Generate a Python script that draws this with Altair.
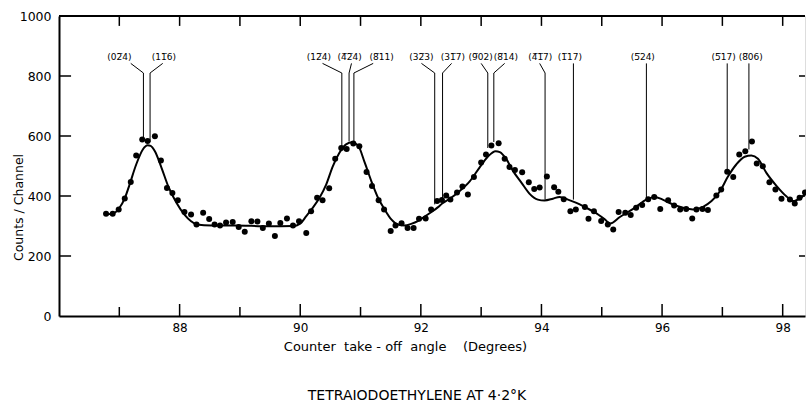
import altair as alt
import pandas as pd

# ---- measured points (angle in degrees, counts per channel) ----
pt_angle = [86.78, 86.89, 86.99, 87.09, 87.19, 87.28, 87.38, 87.47, 87.59, 87.69,
            87.79, 87.88, 87.97, 88.08, 88.19, 88.28, 88.39, 88.49, 88.58, 88.67,
            88.77, 88.88, 88.98, 89.08, 89.19, 89.29, 89.38, 89.48, 89.58, 89.67,
            89.78, 89.88, 89.98, 90.10, 90.18, 90.28, 90.37, 90.48, 90.58, 90.68,
            90.77, 90.88, 90.98, 91.10, 91.19, 91.30, 91.39, 91.50, 91.58, 91.68,
            91.78, 91.88, 91.97, 92.08, 92.17, 92.27, 92.35, 92.42, 92.49, 92.60,
            92.69, 92.78, 92.88, 93.00, 93.08, 93.17, 93.29, 93.39, 93.47, 93.56,
            93.68, 93.79, 93.88, 93.97, 94.09, 94.21, 94.28, 94.37, 94.48, 94.57,
            94.72, 94.78, 94.87, 94.99, 95.10, 95.19, 95.28, 95.39, 95.48, 95.57,
            95.67, 95.77, 95.87, 95.97, 96.10, 96.20, 96.30, 96.40, 96.50, 96.57,
            96.67, 96.76, 96.90, 96.98, 97.08, 97.18, 97.28, 97.38, 97.49, 97.57,
            97.67, 97.78, 97.88, 97.98, 98.12, 98.20, 98.28, 98.37]
pt_count = [341, 341, 355, 392, 447, 535, 588, 583, 599, 518,
            427, 410, 386, 347, 338, 305, 344, 323, 305, 302,
            312, 313, 297, 281, 316, 315, 293, 308, 267, 310,
            325, 302, 316, 277, 349, 394, 386, 426, 524, 560,
            557, 575, 566, 480, 433, 386, 355, 283, 302, 309,
            293, 293, 324, 325, 355, 383, 387, 402, 388, 412,
            432, 405, 463, 512, 538, 568, 576, 524, 497, 487,
            479, 446, 423, 428, 465, 429, 414, 389, 349, 355,
            363, 324, 349, 317, 305, 288, 347, 344, 337, 361,
            370, 389, 397, 357, 386, 368, 355, 357, 325, 355,
            357, 353, 402, 422, 481, 463, 538, 549, 582, 508,
            499, 446, 422, 391, 388, 375, 394, 412]

# ---- fitted curve ----
fit_angle = [86.78, 86.92, 87.00, 87.09, 87.17, 87.28, 87.39, 87.47, 87.52, 87.59,
             87.70, 87.81, 87.95, 88.08, 88.19, 88.28, 88.53, 88.91, 89.46, 89.88,
             90.00, 90.10, 90.21, 90.32, 90.43, 90.54, 90.65, 90.76, 90.86, 90.96,
             91.07, 91.18, 91.29, 91.40, 91.51, 91.62, 91.73, 91.84, 91.95, 92.06,
             92.17, 92.28, 92.36, 92.48, 92.64, 92.81, 92.97, 93.11, 93.24, 93.31,
             93.42, 93.53, 93.67, 93.80, 93.94, 94.05, 94.19, 94.30, 94.44, 94.58,
             94.74, 94.88, 95.05, 95.14, 95.30, 95.52, 95.74, 95.88, 96.01, 96.18,
             96.35, 96.51, 96.68, 96.82, 96.96, 97.09, 97.23, 97.37, 97.48, 97.59,
             97.73, 97.90, 98.06, 98.17, 98.30, 98.37]
fit_count = [338, 344, 360, 392, 438, 505, 555, 569, 567, 549,
             494, 433, 377, 338, 316, 305, 302, 302, 299, 300,
             308, 333, 361, 394, 438, 499, 544, 572, 579, 568,
             511, 449, 394, 355, 322, 305, 302, 307, 316, 331,
             346, 362, 376, 391, 416, 449, 494, 531, 549, 546,
             522, 483, 444, 408, 388, 385, 391, 397, 388, 377,
             361, 346, 322, 308, 330, 357, 388, 397, 388, 372,
             361, 355, 364, 383, 416, 464, 505, 531, 535, 524,
             477, 433, 399, 383, 394, 405]

# ---- reflection labels ----
O = "\u0305"
label_text = ["(02" + O + "4)", "(11" + O + "6)", "(12" + O + "4)", "(4" + O + "2" + O + "4)",
              "(8" + O + "11)", "(32" + O + "3)", "(31" + O + "7)", "(9" + O + "02)",
              "(8" + O + "14)", "(4" + O + "1" + O + "7)", "(1" + O + "17)", "(5" + O + "24)",
              "(5" + O + "17)", "(8" + O + "06)"]
label_angle = [87.00, 87.74, 90.31, 90.82, 91.35, 92.01, 92.53, 92.99, 93.41, 93.98,
               94.47, 95.68, 97.02, 97.47]
leader_start = [87.19, 87.72, 90.37, 90.85, 91.21, 92.01, 92.51, 93.00, 93.39, 93.97,
                94.53, 95.74, 97.08, 97.44]
leader_angle = [87.40, 87.51, 90.69, 90.81, 90.89, 92.23, 92.36, 93.11, 93.21, 94.06,
                94.53, 95.74, 97.08, 97.44]
leader_end = [588, 580, 565, 582, 580, 372, 385, 560, 580, 388, 388, 390, 480, 555]

x_major = [88, 90, 92, 94, 96, 98]
x_minor = [87, 89, 91, 93, 95, 97]
y_ticks = [200, 400, 600, 800]
y_labels = [0, 200, 400, 600, 800, 1000]

FONT = "DejaVu Sans"
X0, X1 = 86, 98.37
LABEL_Y, KINK_TOP, KINK_LOW = 863, 842, 810

pts = pd.DataFrame({"a": pt_angle, "c": pt_count})
fit = pd.DataFrame({"a": fit_angle, "c": fit_count})
labels = pd.DataFrame({"t": label_text, "a": label_angle})

segs = []
for s, v, e in zip(leader_start, leader_angle, leader_end):
    if s != v:
        segs.append({"a": s, "c": KINK_TOP, "a2": v, "c2": KINK_LOW})
        segs.append({"a": v, "c": KINK_LOW, "a2": v, "c2": e})
    else:
        segs.append({"a": v, "c": KINK_TOP, "a2": v, "c2": e})
segs = pd.DataFrame(segs)

ticks = []
for v in x_major:
    ticks.append({"a": v, "c": 0, "a2": v, "c2": 40, "w": 1.5})
for v in x_minor:
    ticks.append({"a": v, "c": 0, "a2": v, "c2": 30, "w": 1.5})
for v in x_major + x_minor:
    ticks.append({"a": v, "c": 1000, "a2": v, "c2": 967, "w": 1.5})
for v in y_ticks:
    ticks.append({"a": X0, "c": v, "a2": X0 + 0.2, "c2": v, "w": 1.5})
    ticks.append({"a": X1 - 0.1, "c": v, "a2": X1, "c2": v, "w": 1.5})
ticks.append({"a": X0, "c": 1000, "a2": X1, "c2": 1000, "w": 2})
ticks = pd.DataFrame(ticks)

xs = alt.Scale(domain=[X0, X1], nice=False, zero=False)
ys = alt.Scale(domain=[0, 1000], nice=False, zero=False)

NB = "\u00a0"
x_axis = alt.Axis(values=x_major, format="d", ticks=False, grid=False,
                  domainColor="black", domainWidth=2, labelFont=FONT,
                  labelFontSize=12, labelColor="black", labelPadding=6,
                  title="Counter" + NB * 2 + "take" + NB + "-" + NB + "off" + NB * 2
                        + "angle" + NB * 4 + "(Degrees)",
                  titleFont=FONT, titleFontSize=13, titleFontWeight="normal",
                  titleColor="black", titleX=346, titleY=24, titleAlign="center",
                  titleBaseline="top")
y_axis = alt.Axis(values=y_labels, format="d", ticks=False, grid=False,
                  domainColor="black", domainWidth=2, labelFont=FONT,
                  labelFontSize=12.5, labelColor="black", labelPadding=8,
                  title="Counts / Channel", titleFont=FONT, titleFontSize=12.5,
                  titleFontWeight="normal", titleColor="black", titleX=-41,
                  titleY=191, titleAngle=270, titleAlign="center",
                  titleBaseline="middle")


def xenc():
    return alt.X("a:Q", scale=xs, axis=x_axis)


def yenc():
    return alt.Y("c:Q", scale=ys, axis=y_axis)


line = alt.Chart(fit).mark_line(color="black", strokeWidth=2, interpolate="monotone").encode(
    x=xenc(), y=yenc(),
)
dots = alt.Chart(pts).mark_circle(color="black", size=36, opacity=1).encode(
    x=xenc(), y=yenc(),
)
leaders = alt.Chart(segs).mark_rule(color="black", strokeWidth=1).encode(
    x=xenc(), x2="a2:Q", y=yenc(), y2="c2:Q",
)
texts = alt.Chart(labels).mark_text(font=FONT, fontSize=9, color="black",
                                    baseline="middle", align="center").encode(
    x=xenc(),
    y=alt.datum(LABEL_Y, scale=ys, axis=y_axis),
    text="t:N",
)
frame = alt.Chart(ticks).mark_rule(color="black").encode(
    x=xenc(), x2="a2:Q", y=yenc(), y2="c2:Q",
    strokeWidth=alt.StrokeWidth("w:Q", scale=None),
)

chart = alt.layer(line, dots, leaders, texts, frame).properties(
    width=746, height=300,
    autosize=alt.AutoSizeParams(type="none"),
    padding={"left": 59, "top": 16, "right": 1, "bottom": 86},
    title=alt.TitleParams("TETRAIODOETHYLENE AT 4\u00b72\u00b0K", orient="bottom",
                          anchor="middle", dx=-15, offset=36, font=FONT,
                          fontSize=14, fontWeight="normal", color="black"),
).configure_view(stroke=None).configure(background="white")

chart.save("out.html", embed_options={"renderer": "svg", "actions": False})
